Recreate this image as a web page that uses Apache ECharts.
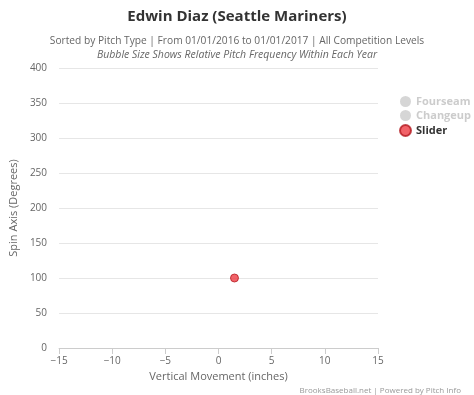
<!DOCTYPE html>
<html>
<head>
<meta charset="utf-8">
<script src="https://cdn.jsdelivr.net/npm/echarts@6/dist/echarts.min.js"></script>
<style>
  html, body { margin: 0; padding: 0; background: #fff; }
  #chart { width: 474px; height: 395px; }
</style>
</head>
<body>
<div id="chart"></div>
<script>
// pitch types, slider is the only one thrown in this span
var pitchTypes = ["Fourseam", "Changeup", "Slider"];
var fourseamData = [];
var changeupData = [];
var sliderData = [[1.5, 100]];
var yTicks = [0, 50, 100, 150, 200, 250, 300, 350, 400];
var xTicks = [-15, -10, -5, 0, 5, 10, 15];

var chart = echarts.init(document.getElementById("chart"));
var font = "'Open Sans', sans-serif";

var option = {
  animation: false,
  title: [
    {
      text: "Edwin Diaz (Seattle Mariners)",
      left: "center",
      top: 4,
      textStyle: { fontSize: 15, fontWeight: "bold", color: "#333", fontFamily: font }
    },
    {
      text: "Sorted by Pitch Type | From 01/01/2016 to 01/01/2017 | All Competition Levels",
      left: "center",
      top: 31,
      textStyle: { fontSize: 10.2, fontWeight: "normal", color: "#666", fontFamily: font }
    },
    {
      text: "Bubble Size Shows Relative Pitch Frequency Within Each Year",
      left: "center",
      top: 45,
      textStyle: { fontSize: 10.5, fontWeight: "normal", fontStyle: "italic", color: "#666", fontFamily: font }
    },
    {
      text: "BrooksBaseball.net | Powered by Pitch Info",
      right: 8,
      top: 382,
      textStyle: { fontSize: 8, fontWeight: "normal", color: "#999", fontFamily: font }
    }
  ],
  legend: {
    orient: "vertical",
    left: 394,
    top: 91,
    itemWidth: 11,
    itemHeight: 11,
    itemGap: 3,
    icon: "circle",
    data: pitchTypes,
    selected: { Fourseam: false, Changeup: false, Slider: true },
    inactiveColor: "#ccc",
    textStyle: { fontSize: 11, fontWeight: "bold", color: "#333", fontFamily: font }
  },
  grid: { left: 58, right: 96, top: 68, bottom: 47 },
  xAxis: {
    type: "value",
    min: -15,
    max: 15,
    interval: 5,
    name: "Vertical Movement (inches)",
    nameLocation: "middle",
    nameGap: 23,
    nameTextStyle: { fontSize: 11, color: "#666", fontFamily: font },
    axisLine: { show: true, onZero: false, lineStyle: { color: "#ccc" } },
    axisTick: { show: true, length: 6, lineStyle: { color: "#ccc" } },
    axisLabel: {
      fontSize: 10,
      color: "#666",
      fontFamily: font,
      margin: 8,
      formatter: function (v) { return xTicks.indexOf(v) >= 0 ? String(v).replace("-", "\u2212") : ""; }
    },
    splitLine: { show: false }
  },
  yAxis: {
    type: "value",
    min: 0,
    max: 400,
    interval: 50,
    name: "Spin Axis (Degrees)",
    nameLocation: "middle",
    nameGap: 30,
    nameRotate: 90,
    nameTextStyle: { fontSize: 11, color: "#666", fontFamily: font },
    axisLine: { show: false },
    axisTick: { show: false },
    axisLabel: {
      fontSize: 10,
      color: "#666",
      fontFamily: font,
      margin: 12,
      formatter: function (v) { return yTicks.indexOf(v) >= 0 ? v : ""; }
    },
    splitLine: { show: true, lineStyle: { color: "#e6e6e6" } }
  },
  series: [
    { name: "Fourseam", type: "scatter", data: fourseamData, symbolSize: 8, itemStyle: { color: "#4a6fd0" } },
    { name: "Changeup", type: "scatter", data: changeupData, symbolSize: 8, itemStyle: { color: "#3a9a3a" } },
    {
      name: "Slider",
      type: "scatter",
      data: sliderData,
      symbolSize: 8,
      itemStyle: { color: "#ee3b42", borderColor: "#b41c22", borderWidth: 1 }
    }
  ]
};

chart.setOption(option);
</script>
</body>
</html>
